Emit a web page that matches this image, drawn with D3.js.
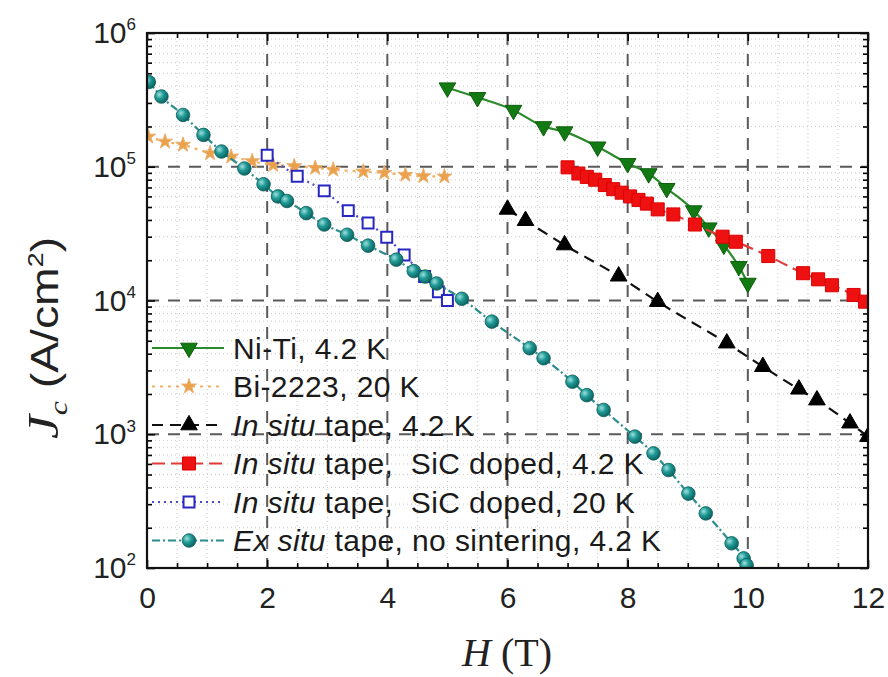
<!DOCTYPE html>
<html>
<head>
<meta charset="utf-8">
<script src="https://cdn.jsdelivr.net/npm/d3@7"></script>
<style>
body{margin:0;background:#fff;}
</style>
</head>
<body>
<div id="chart"></div>
<script>
// H (T) and Jc (A/cm2)
var niTiH=[5.0,5.5,6.1,6.6,6.95,7.5,8.0,8.35,8.65,9.1,9.35,9.6,9.85,10.0];
var niTiJc=[3.9e5,3.3e5,2.65e5,2.0e5,1.83e5,1.41e5,1.06e5,8.9e4,6.9e4,4.7e4,3.5e4,2.6e4,1.8e4,1.35e4];

var biH=[0.02,0.3,0.6,1.05,1.4,1.75,2.1,2.45,2.8,3.1,3.6,3.95,4.3,4.6,4.95];
var biJc=[1.68e5,1.54e5,1.46e5,1.26e5,1.19e5,1.1e5,1.03e5,1.01e5,9.8e4,9.5e4,9.2e4,9.0e4,8.7e4,8.5e4,8.45e4];

var inSituH=[6.0,6.3,6.95,7.85,8.5,9.65,10.25,10.85,11.15,11.7,12.0];
var inSituJc=[4.8e4,3.95e4,2.6e4,1.52e4,9.8e3,4.8e3,3.2e3,2.17e3,1.8e3,1.21e3,9.6e2];

var sic42H=[7.0,7.18,7.32,7.46,7.62,7.76,7.9,8.04,8.18,8.32,8.5,8.76,9.12,9.58,9.8,10.34,10.92,11.17,11.4,11.76,11.95];
var sic42Jc=[9.9e4,8.9e4,8.4e4,8.0e4,7.3e4,6.8e4,6.4e4,6.0e4,5.65e4,5.3e4,4.8e4,4.4e4,3.7e4,3.0e4,2.75e4,2.15e4,1.6e4,1.44e4,1.3e4,1.1e4,9.8e3];

var sic20H=[2.0,2.5,2.95,3.35,3.68,3.99,4.28,4.62,4.85,5.0];
var sic20Jc=[1.22e5,8.5e4,6.6e4,4.7e4,3.8e4,2.97e4,2.19e4,1.51e4,1.16e4,1.0e4];

var exSituH=[0.03,0.24,0.6,0.94,1.24,1.62,1.94,2.18,2.33,2.65,2.95,3.33,3.68,4.15,4.44,4.63,4.82,5.24,5.74,6.37,6.6,7.08,7.32,7.6,8.12,8.43,8.68,9.01,9.3,9.73,9.93,9.98];
var exSituJc=[4.3e5,3.35e5,2.44e5,1.73e5,1.3e5,9.7e4,7.4e4,6.0e4,5.55e4,4.5e4,3.7e4,3.1e4,2.57e4,2.02e4,1.66e4,1.51e4,1.34e4,1.03e4,6.95e3,4.4e3,3.7e3,2.47e3,1.96e3,1.52e3,9.6e2,7.2e2,5.4e2,3.6e2,2.56e2,1.53e2,1.18e2,1.05e2];

var seriesNames=['Ni-Ti, 4.2 K','Bi-2223, 20 K','In situ tape, 4.2 K','In situ tape,  SiC doped, 4.2 K','In situ tape,  SiC doped, 20 K','Ex situ tape, no sintering, 4.2 K'];

var xTicks=[0,2,4,6,8,10,12];
var yTicks=[1e2,1e3,1e4,1e5,1e6];

var W=888,H=677;
var pLeft=147,pTop=33,pRight=868,pBottom=568;

var svg=d3.select('#chart').append('svg')
	.attr('width',W).attr('height',H)
	.attr('font-family','Liberation Sans, Arial, sans-serif');

var x=d3.scaleLinear().domain([0,12]).range([pLeft,pRight]);
var y=d3.scaleLog().domain([1e2,1e6]).range([pBottom,pTop]);

var defs=svg.append('defs');
defs.append('clipPath').attr('id','plotClip').append('rect')
	.attr('x',pLeft).attr('y',pTop-8).attr('width',pRight-pLeft).attr('height',pBottom-pTop+8);
var grad=defs.append('radialGradient').attr('id','ball').attr('cx','35%').attr('cy','35%').attr('r','70%');
grad.append('stop').attr('offset','0%').attr('stop-color','#9fe0dc');
grad.append('stop').attr('offset','45%').attr('stop-color','#1f9a96');
grad.append('stop').attr('offset','100%').attr('stop-color','#0b5e5c');

// minor values
var xMinor=d3.range(0,12.01,0.5).filter(function(d){return d%2!==0;});
var yMinor=[];
yTicks.slice(0,-1).forEach(function(p){
	for(var k=2;k<10;k++) yMinor.push(p*k);
});

// light dotted grid
var gGrid=svg.append('g');
gGrid.selectAll('.vmin').data(xMinor).enter().append('line')
	.attr('x1',function(d){return x(d);}).attr('x2',function(d){return x(d);})
	.attr('y1',pTop).attr('y2',pBottom)
	.attr('stroke','#c8c8c8').attr('stroke-width',1).attr('stroke-dasharray','1,3');
gGrid.selectAll('.hmin').data(yMinor).enter().append('line')
	.attr('x1',pLeft).attr('x2',pRight)
	.attr('y1',function(d){return y(d);}).attr('y2',function(d){return y(d);})
	.attr('stroke','#c8c8c8').attr('stroke-width',1).attr('stroke-dasharray','1,3');
// dashed major grid
gGrid.selectAll('.vmaj').data(xTicks.slice(1,-1)).enter().append('line')
	.attr('x1',function(d){return x(d);}).attr('x2',function(d){return x(d);})
	.attr('y1',pTop).attr('y2',pBottom)
	.attr('stroke','#5a5a5a').attr('stroke-width',2).attr('stroke-dasharray','12,9');
gGrid.selectAll('.hmaj').data(yTicks.slice(1,-1)).enter().append('line')
	.attr('x1',pLeft).attr('x2',pRight)
	.attr('y1',function(d){return y(d);}).attr('y2',function(d){return y(d);})
	.attr('stroke','#5a5a5a').attr('stroke-width',2).attr('stroke-dasharray','12,9');

// axes, ticks pointing inward on all four sides
function styleAxis(g){
	g.select('.domain').remove();
	g.selectAll('line').attr('stroke','#000').attr('stroke-width',1.6);
}
svg.append('g').attr('transform','translate(0,'+pBottom+')')
	.call(d3.axisBottom(x).tickValues(xTicks).tickSize(-8).tickPadding(19))
	.call(styleAxis)
	.selectAll('text').attr('font-size',30).attr('fill','#222').attr('font-family','Liberation Sans, Arial, sans-serif');
svg.append('g').attr('transform','translate(0,'+pBottom+')')
	.call(d3.axisBottom(x).tickValues(xMinor).tickSize(-5).tickFormat(''))
	.call(styleAxis);
svg.append('g').attr('transform','translate(0,'+pTop+')')
	.call(d3.axisTop(x).tickValues(xTicks).tickSize(-8).tickFormat(''))
	.call(styleAxis);
svg.append('g').attr('transform','translate(0,'+pTop+')')
	.call(d3.axisTop(x).tickValues(xMinor).tickSize(-5).tickFormat(''))
	.call(styleAxis);

var yAxisG=svg.append('g').attr('transform','translate('+pLeft+',0)')
	.call(d3.axisLeft(y).tickValues(yTicks).tickSize(-8).tickPadding(11))
	.call(styleAxis);
yAxisG.selectAll('text').attr('font-size',30).attr('fill','#222').attr('font-family','Liberation Sans, Arial, sans-serif')
	.each(function(d){
		var t=d3.select(this);
		t.text('10');
		t.append('tspan').attr('dy','-0.75em').attr('font-size',17).text(Math.round(Math.log10(d)));
	});
svg.append('g').attr('transform','translate('+pLeft+',0)')
	.call(d3.axisLeft(y).tickValues(yMinor).tickSize(-5).tickFormat(''))
	.call(styleAxis);
svg.append('g').attr('transform','translate('+pRight+',0)')
	.call(d3.axisRight(y).tickValues(yTicks).tickSize(-8).tickFormat(''))
	.call(styleAxis);
svg.append('g').attr('transform','translate('+pRight+',0)')
	.call(d3.axisRight(y).tickValues(yMinor).tickSize(-5).tickFormat(''))
	.call(styleAxis);

// series table built from the arrays above
function pts(hs,js){
	return hs.map(function(h,i){return {h:h,j:js[i]};});
}
var series=[
	{pts:pts(niTiH,niTiJc),line:'#2b8a2b',dash:null,sym:d3.symbolTriangle,rot:180,size:120,fill:'#137a13',stroke:'#0d5e0d'},
	{pts:pts(biH,biJc),line:'#f2b062',dash:'3,5',sym:d3.symbolStar,rot:0,size:70,fill:'#eba04a',stroke:'#eab070'},
	{pts:pts(inSituH,inSituJc),line:'#111',dash:'11,7',sym:d3.symbolTriangle,rot:0,size:120,fill:'#000',stroke:'#000'},
	{pts:pts(sic42H,sic42Jc),line:'#e03a3a',dash:'13,6',sym:d3.symbolSquare,rot:0,size:170,fill:'#ee1111',stroke:'#dd0000'},
	{pts:pts(sic20H,sic20Jc),line:'#4a4ad0',dash:'2,4',sym:d3.symbolSquare,rot:0,size:120,fill:'#fff',stroke:'#2828c0'},
	{pts:pts(exSituH,exSituJc),line:'#2b8c8c',dash:'8,3,2,3',sym:null,rot:0,size:0,fill:'url(#ball)',stroke:'#0b5e5c'}
];

var line=d3.line()
	.x(function(d){return x(d.h);})
	.y(function(d){return y(d.j);})
	.curve(d3.curveMonotoneX);

var gData=svg.append('g').attr('clip-path','url(#plotClip)');

function drawMarker(g,s,cx,cy){
	if(s.sym){
		g.append('path')
			.attr('d',d3.symbol().type(s.sym).size(s.size)())
			.attr('transform','translate('+cx+','+cy+') rotate('+s.rot+')')
			.attr('fill',s.fill).attr('stroke',s.stroke)
			.attr('stroke-width',s.fill==='#fff'?2:1);
	}else{
		g.append('circle').attr('cx',cx).attr('cy',cy).attr('r',6.8)
			.attr('fill',s.fill).attr('stroke',s.stroke).attr('stroke-width',0.8);
	}
}

series.forEach(function(s){
	gData.append('path').datum(s.pts)
		.attr('d',line)
		.attr('fill','none')
		.attr('stroke',s.line)
		.attr('stroke-width',2.2)
		.attr('stroke-dasharray',s.dash);
	var gm=gData.append('g');
	s.pts.forEach(function(p){
		drawMarker(gm,s,x(p.h),y(p.j));
	});
});

// frame
svg.append('rect').attr('x',pLeft).attr('y',pTop).attr('width',pRight-pLeft).attr('height',pBottom-pTop)
	.attr('fill','none').attr('stroke','#111').attr('stroke-width',2.2);

// legend
var gLegend=svg.append('g');
seriesNames.forEach(function(name,i){
	var s=series[i],
		ly=348+i*38.5;
	gLegend.append('line').attr('x1',152).attr('x2',224).attr('y1',ly).attr('y2',ly)
		.attr('stroke',s.line).attr('stroke-width',2.2).attr('stroke-dasharray',s.dash);
	drawMarker(gLegend,s,189,ly);
	var t=gLegend.append('text').attr('x',233).attr('y',ly).attr('dy','0.36em')
		.attr('font-size',30).attr('letter-spacing',0.4).attr('fill','#1a1a1a').style('white-space','pre');
	if(name.indexOf('situ')===3){	// "In situ" / "Ex situ" in italics
		t.append('tspan').attr('font-style','italic').text(name.slice(0,7));
		t.append('tspan').text(name.slice(7));
	}else{
		t.text(name);
	}
});

// axis titles
var xt=svg.append('text').attr('x',507).attr('y',666).attr('text-anchor','middle')
	.attr('font-family','Liberation Serif, Times New Roman, serif').attr('font-size',40).attr('fill','#222');
xt.append('tspan').attr('font-style','italic').text('H');
xt.append('tspan').text(' (T)');

// stretched along its length, as in the source figure
var yt=svg.append('text').attr('transform','translate(58,338) rotate(-90) scale(1.22,1)').attr('text-anchor','middle')
	.attr('font-size',38).attr('fill','#222');
yt.append('tspan').attr('font-family','Liberation Serif, Times New Roman, serif').attr('font-style','italic').attr('font-size',44).text('J');
yt.append('tspan').attr('font-family','Liberation Serif, Times New Roman, serif').attr('font-style','italic').attr('font-size',26).attr('dy',9).text('c');
yt.append('tspan').attr('dy',-9).style('white-space','pre').text(' (A/cm');
yt.append('tspan').attr('font-size',22).attr('dy',-15).text('2');
yt.append('tspan').attr('dy',15).text(')');
</script>
</body>
</html>
